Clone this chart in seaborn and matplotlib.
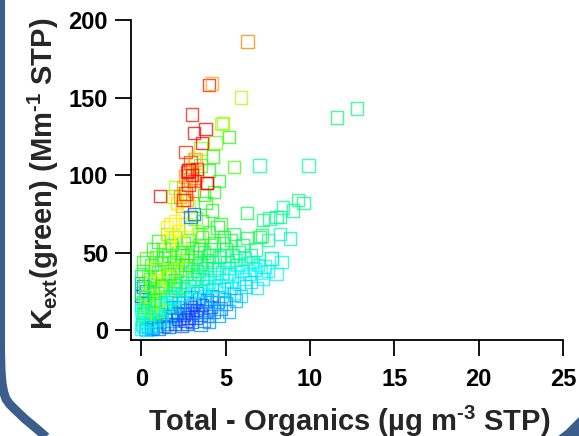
import numpy as np
import pandas as pd
import matplotlib
matplotlib.use("Agg")
import matplotlib.pyplot as plt
import seaborn as sns
from matplotlib.colors import LinearSegmentedColormap
from matplotlib.transforms import Affine2D
from matplotlib.lines import Line2D
from matplotlib.patches import Polygon

# Total minus organics mass (ug m-3 STP)
total_minus_org = [
    0.0, 0.1, 0.2, 0.3, 0.05, 0.4, 0.5, 0.6, 0.15, 0.7, 0.8, 0.25, 0.9, 1.0, 0.35, 1.1, 1.2, 0.55, 1.3, 0.75,
    1.4, 0.0, 0.1, 0.45, 0.65, 0.95, 1.15, 1.5, 0.2, 0.85, 0.05, 0.3, 0.6, 1.0, 1.6, 1.7, 1.8, 1.9, 0.4, 0.0,
    1.6, 2.0, 2.2, 2.4, 2.5, 2.6, 2.7, 2.8, 2.9, 3.0, 3.0, 3.1, 3.2, 3.3, 3.4, 3.5, 3.6, 3.7, 3.8, 3.9,
    4.0, 4.1, 4.2, 4.3, 4.5, 4.7, 4.9, 5.0, 2.1, 2.3, 2.5, 1.8, 2.9, 3.3, 2.7, 3.5, 4.0, 4.6, 5.2, 5.5,
    0.0, 0.1, 0.3, 0.0,
    3.5, 3.8, 4.0, 4.2, 4.4, 4.6, 4.8, 5.0, 5.2, 5.3, 5.45, 5.5, 5.7, 5.8, 6.0, 6.1, 6.3, 6.4, 6.6, 6.7,
    6.85, 6.9, 7.1, 7.3, 7.5, 7.7, 8.0, 8.3, 6.2, 5.9, 4.5, 4.9, 5.6, 6.5, 7.2, 3.7, 4.1, 3.2, 3.6, 4.3,
    5.1, 5.4,
    0.0, 0.2, 0.4, 0.1, 0.5, 0.6, 0.8, 0.9, 1.0, 1.1, 1.2, 1.3, 1.4, 1.5, 1.6, 1.7, 1.8, 1.9, 2.0, 2.1,
    2.2, 2.3, 2.4, 2.5, 2.6, 2.7, 2.8, 2.9, 3.0, 3.1, 3.2, 3.3, 3.4, 3.5, 3.7, 3.9, 4.1, 4.3, 0.3, 0.7,
    1.0, 0.0, 0.1, 2.0, 2.8, 3.6, 1.5,
    0.3, 0.6, 1.1, 1.5, 1.9, 0.9, 2.1, 1.3, 0.8, 0.5, 2.4, 1.7,
    1.5, 1.7, 1.8, 2.0, 2.2, 2.1, 2.4, 1.6, 2.6, 2.3,
    2.9, 3.2, 2.5, 2.8, 3.4, 2.0, 1.9,
    2.3, 2.5, 2.7, 2.9, 3.1, 3.3, 2.6, 3.0, 3.2, 2.4,
    3.1, 2.9,
    3.4, 3.8, 4.2, 4.6, 4.9, 5.2, 4.0, 3.5, 4.4, 3.9, 5.6, 6.1,
    1.5, 2.0, 2.4, 1.7, 2.6, 3.0, 2.2, 1.9,
    0.2, 0.5, 0.9, 1.3, 0.4, 0.8, 1.2, 1.6, 2.0, 2.4, 0.1, 0.7, 1.4, 1.9, 2.6, 3.0, 0.6, 1.1, 1.8, 2.2,
    6.25, 7.2, 7.6, 8.2, 8.0, 9.0, 9.6, 9.3, 8.4, 6.3, 7.0, 7.15, 4.7, 4.85, 5.5, 6.0, 6.8, 7.5, 8.2, 8.8,
    5.8, 6.5, 7.7, 5.0, 5.3, 4.6, 4.9,
    5.9, 12.8, 11.6, 4.85, 4.75, 5.2, 4.4, 3.5, 4.25, 7.0, 9.9, 5.5, 4.6, 3.8, 2.1, 3.5, 4.0, 4.3, 3.7, 4.2,
    3.6, 4.5, 4.0,
    2.6, 2.8, 3.0, 2.7, 2.9, 2.5, 3.1, 1.1, 2.8, 3.9, 3.3,
    6.3, 4.0, 4.2, 3.0, 3.1, 3.8, 3.6, 2.6, 3.1, 2.8, 3.9,
]

# Green extinction coefficient (Mm-1 STP)
kext_green = [
    1, 3, 0.5, 5, 7, 2, 8, 4, 10, 1.5, 6, 12, 3, 9, 15, 5, 12, 14, 2.5, 17,
    8, 13, 18, 20, 11, 14, 17, 4, 8, 9, 4, 0, 0.5, 1, 10, 15, 6, 12, 17, 16,
    2, 4, 7, 3, 10, 6, 13, 8, 15, 5, 11, 17, 8, 13, 20, 10, 16, 6, 12, 19,
    9, 15, 22, 12, 18, 14, 20, 17, 11, 15, 18, 9, 21, 24, 4, 3.5, 5, 9, 12, 23,
    22, 28, 25, 30,
    25, 28, 31, 26, 34, 29, 37, 32, 40, 27, 24, 35, 42, 30, 38, 33, 43, 36, 44, 39,
    27, 42, 37, 41, 38, 46, 36, 44, 28, 22, 21, 26, 19, 31, 33, 22, 18, 28, 33, 39,
    44, 48,
    24, 30, 35, 38, 27, 42, 32, 47, 37, 24, 43, 52, 29, 40, 48, 34, 55, 44, 26, 38,
    50, 31, 45, 56, 36, 48, 28, 42, 53, 33, 47, 38, 55, 43, 50, 45, 52, 56, 46, 52,
    57, 35, 44, 60, 58, 60, 62,
    22, 30, 30, 34, 39, 26, 45, 20, 18, 14, 40, 27,
    66, 68, 62, 70, 64, 82, 76, 58, 68, 58,
    66, 72, 88, 80, 62, 92, 86,
    86, 92, 84, 97, 90, 100, 99, 104, 110, 80,
    75, 73,
    36, 40, 44, 40, 48, 36, 48, 52, 28, 34, 45, 46,
    18, 20, 23, 22, 26, 24, 17, 15,
    21, 33, 40, 46, 6, 19, 28, 36, 32, 50, 11, 24, 16, 29, 42, 38, 2, 7, 21, 27,
    75.5, 71, 72, 73, 73, 77, 82, 84, 79, 59.5, 60, 61, 68, 56, 62, 55, 52, 58, 62, 59,
    50, 48, 46, 52, 58, 47, 60,
    150, 143, 137, 133.5, 133, 124.5, 121, 117, 112, 106, 106, 105, 96, 82, 82, 106, 103, 89, 87, 77,
    70, 66, 63,
    88, 94, 100, 102, 108, 84, 96, 86.5, 103, 95, 104,
    186, 158, 159, 139, 127, 129.5, 120.5, 115, 110, 103, 95,
]

# Colour index of each sample (0 = blue ... 1 = red)
colour_index = [
    0.30, 0.35, 0.25, 0.40, 0.30, 0.20, 0.45, 0.30, 0.35, 0.15, 0.28, 0.42, 0.22, 0.38, 0.50, 0.20, 0.45, 0.33, 0.12, 0.40,
    0.30, 0.30, 0.48, 0.55, 0.50, 0.27, 0.52, 0.15, 0.60, 0.62, 0.28, 0.26, 0.20, 0.10, 0.40, 0.50, 0.18, 0.35, 0.30, 0.32,
    0.08, 0.05, 0.00, 0.10, 0.02, 0.00, 0.05, 0.00, 0.04, 0.10, 0.00, 0.06, 0.02, 0.00, 0.08, 0.05, 0.03, 0.12, 0.07, 0.09,
    0.10, 0.06, 0.10, 0.12, 0.10, 0.14, 0.12, 0.15, 0.08, 0.10, 0.12, 0.10, 0.10, 0.12, 0.05, 0.15, 0.16, 0.18, 0.20, 0.18,
    0.05, 0.08, 0.10, 0.12,
    0.30, 0.28, 0.32, 0.27, 0.30, 0.33, 0.29, 0.30, 0.31, 0.26, 0.30, 0.30, 0.32, 0.28, 0.30, 0.27, 0.31, 0.30, 0.35, 0.29,
    0.28, 0.33, 0.30, 0.31, 0.29, 0.36, 0.30, 0.33, 0.25, 0.24, 0.22, 0.24, 0.20, 0.26, 0.28, 0.25, 0.20, 0.35, 0.37, 0.38,
    0.40, 0.42,
    0.45, 0.50, 0.55, 0.50, 0.48, 0.52, 0.50, 0.55, 0.45, 0.42, 0.50, 0.55, 0.46, 0.53, 0.50, 0.47, 0.52, 0.48, 0.44, 0.50,
    0.55, 0.43, 0.49, 0.50, 0.45, 0.50, 0.40, 0.47, 0.52, 0.44, 0.50, 0.42, 0.50, 0.46, 0.48, 0.43, 0.47, 0.50, 0.55, 0.52,
    0.50, 0.42, 0.50, 0.55, 0.50, 0.52, 0.55,
    0.62, 0.65, 0.66, 0.66, 0.65, 0.60, 0.62, 0.64, 0.62, 0.63, 0.60, 0.60,
    0.70, 0.72, 0.68, 0.70, 0.70, 0.72, 0.70, 0.70, 0.66, 0.68,
    0.60, 0.58, 0.60, 0.62, 0.60, 0.62, 0.60,
    0.85, 0.80, 0.82, 0.85, 0.88, 0.80, 0.82, 0.86, 0.80, 0.78,
    0.05, 0.08,
    0.38, 0.40, 0.42, 0.36, 0.40, 0.35, 0.44, 0.45, 0.33, 0.36, 0.38, 0.37,
    0.25, 0.28, 0.30, 0.30, 0.32, 0.28, 0.22, 0.20,
    0.40, 0.52, 0.66, 0.48, 0.32, 0.45, 0.50, 0.55, 0.42, 0.50, 0.36, 0.44, 0.30, 0.46, 0.52, 0.40, 0.24, 0.28, 0.35, 0.45,
    0.45, 0.42, 0.40, 0.38, 0.40, 0.40, 0.42, 0.40, 0.38, 0.45, 0.48, 0.44, 0.48, 0.46, 0.45, 0.42, 0.40, 0.38, 0.36, 0.37,
    0.44, 0.40, 0.36, 0.44, 0.47, 0.42, 0.48,
    0.62, 0.42, 0.42, 0.60, 0.62, 0.52, 0.58, 0.60, 0.53, 0.38, 0.38, 0.55, 0.50, 0.50, 0.70, 0.55, 0.50, 0.50, 0.52, 0.50,
    0.52, 0.52, 0.48,
    0.95, 0.98, 1.00, 0.96, 0.94, 0.97, 0.93, 1.00, 0.95, 1.00, 0.98,
    0.85, 0.98, 0.80, 0.98, 1.00, 1.00, 1.00, 0.96, 0.78, 1.00, 1.00,
]

x_ticks = [0, 5, 10, 15, 20, 25]
y_ticks = [0, 50, 100, 150, 200]

df = pd.DataFrame({"x": total_minus_org, "y": kext_green, "c": colour_index})

sns.set_style("ticks")
plt.rcParams["font.family"] = ["Liberation Sans", "DejaVu Sans"]
plt.rcParams["font.weight"] = "bold"
plt.rcParams["mathtext.fontset"] = "custom"
plt.rcParams["mathtext.rm"] = "Liberation Sans:bold"
plt.rcParams["mathtext.it"] = "Liberation Sans:bold"
plt.rcParams["mathtext.bf"] = "Liberation Sans:bold"

rainbow = LinearSegmentedColormap.from_list(
    "rainbow_bc",
    [(0.00, (0.05, 0.20, 1.00)),
     (0.15, (0.00, 0.55, 1.00)),
     (0.30, (0.00, 1.00, 1.00)),
     (0.42, (0.00, 1.00, 0.45)),
     (0.52, (0.10, 1.00, 0.00)),
     (0.68, (1.00, 1.00, 0.00)),
     (0.84, (1.00, 0.55, 0.00)),
     (1.00, (1.00, 0.00, 0.00))],
)

W, H = 579, 436
fig = plt.figure(figsize=(W / 100, H / 100), dpi=100)
ax = fig.add_axes([131 / W, 1 - 340 / H, (563 - 131) / W, (340 - 20) / H])

sns.scatterplot(data=df, x="x", y="y", hue="c", palette=rainbow, hue_norm=(0, 1),
                marker="s", s=80, linewidth=1.0, alpha=0.75, legend=False, ax=ax)
pts = ax.collections[0]
pts.set_edgecolors(pts.get_facecolors())
pts.set_facecolors("none")

ax.set_xlim(-0.62, 25)
ax.set_ylim(-6.45, 200)
ax.set_xticks(x_ticks)
ax.set_yticks(y_ticks)
ax.set_xlabel("")
ax.set_ylabel("")
for side in ("top", "right"):
    ax.spines[side].set_visible(False)
for side in ("left", "bottom"):
    ax.spines[side].set_linewidth(1.3)
    ax.spines[side].set_color("black")
ax.tick_params(axis="both", which="major", bottom=True, left=True, direction="out",
               length=11.5, width=1.3, color="black", labelsize=17, labelcolor="black")
ax.tick_params(axis="x", pad=9)
ax.tick_params(axis="y", pad=5)
for lbl in ax.get_xticklabels() + ax.get_yticklabels():
    lbl.set_fontweight("bold")

fig.text(349 / W, 1 - 431 / H, "Total - Organics (µg m$^{\\text{-3}}$ STP)",
         ha="center", va="baseline", fontsize=21, fontweight="bold")
fig.text(43 / W, 1 - 174 / H, "K$_{\\mathrm{ext}}$(green) (Mm$^{\\text{-1}}$ STP)",
         ha="center", va="center", rotation=90, fontsize=21, fontweight="bold")

# slide frame accents
px = Affine2D().scale(1 / W, -1 / H).translate(0, 1) + fig.transFigure
frame_blue = "#3C5E8C"
arc_x = [0.5, 0.5, 1.0, 2.0, 3.6, 6.0, 9.5, 14.5, 25, 37, 45, 55]
arc_y = [-20, 350, 370, 383, 392, 399, 404, 409, 419, 429, 436, 446]
fig.add_artist(Line2D(arc_x, arc_y, transform=px, color=frame_blue, linewidth=6.5,
                      solid_joinstyle="round", solid_capstyle="butt"))
fig.add_artist(Polygon([(557, 437), (566, 430), (573, 423), (580, 416), (580, 437)],
                       closed=True, transform=px, facecolor=frame_blue, edgecolor="none"))

fig.savefig("out.png", dpi=100)
